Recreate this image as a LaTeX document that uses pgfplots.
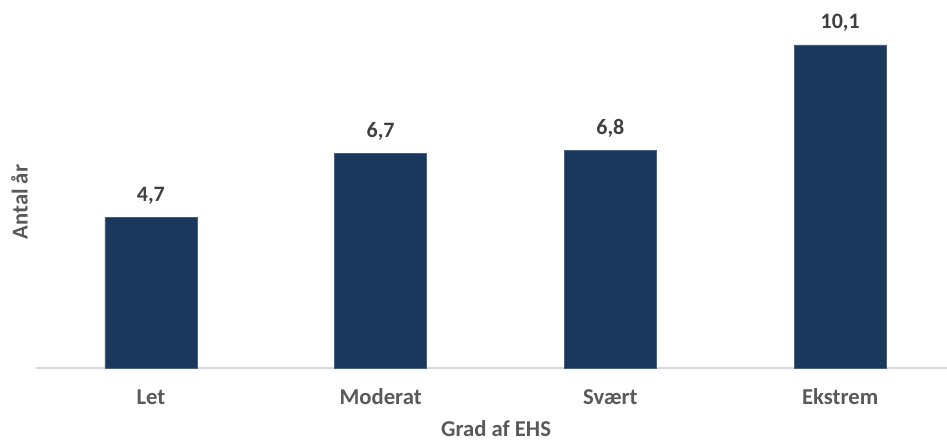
\documentclass[border=0pt]{standalone}
\usepackage{pgfplots}
\pgfplotsset{compat=1.18}
\usepackage{fontspec}
\setmainfont{Carlito}
\definecolor{barblue}{HTML}{1A375E}
\definecolor{txtgray}{HTML}{595959}
\definecolor{lblgray}{HTML}{404040}
\definecolor{linegray}{HTML}{D9D9D9}
\begin{document}
\begin{tikzpicture}
\begin{axis}[
  at={(0,0)}, anchor=south west,
  scale only axis=true,
  width=683.25pt, height=271.2pt,
  xmin=-0.5, xmax=3.465,
  ymin=0, ymax=11.3,
  axis x line*=bottom,
  axis y line=none,
  x axis line style={linegray, line width=0.8pt},
  ytick=\empty,
  xtick=data,
  xticklabels={Let,Moderat,Svært,Ekstrem},
  major tick length=0pt,
  xticklabel style={anchor=base, yshift=-27.75pt, font=\bfseries\fontsize{17}{20}\selectfont, text=txtgray},
  xlabel={Grad af EHS},
  xlabel style={at={(rel axis cs:0.505,0)}, anchor=base, yshift=-51.5pt, font=\bfseries\fontsize{17}{20}\selectfont, text=txtgray},
  ybar, bar width=69pt,
  nodes near coords,
  nodes near coords style={anchor=base, yshift=12pt, font=\bfseries\fontsize{16.5}{20}\selectfont, text=lblgray,
    /pgf/number format/.cd, use comma, fixed, fixed zerofill, precision=1, assume math mode=true},
  clip=false,
]
\addplot[fill=barblue, draw=barblue!80!white, line width=0.4pt] coordinates {(0,4.7) (1,6.7) (2,6.8) (3,10.1)};
\node[rotate=90, anchor=center, font=\bfseries\fontsize{17}{20}\selectfont, text=txtgray] at (rel axis cs:-0.0181,0.459) {Antal år};
\end{axis}
\pgfresetboundingbox
\path (-27pt,-54.75pt) rectangle (683.25pt,276pt);
\end{tikzpicture}
\end{document}
